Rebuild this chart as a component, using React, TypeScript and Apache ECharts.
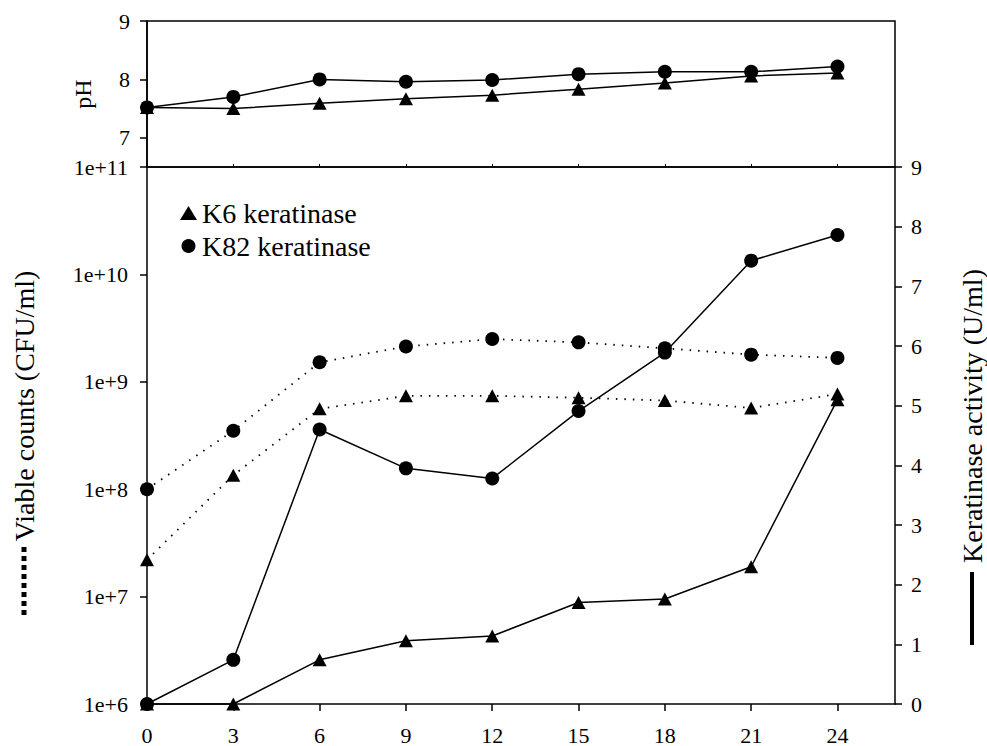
import React, { useEffect, useRef } from "react";
import * as echarts from "echarts";

const hours = [0, 3, 6, 9, 12, 15, 18, 21, 24];
const phK6 = [7.52, 7.5, 7.59, 7.67, 7.73, 7.83, 7.94, 8.06, 8.11];
const phK82 = [7.52, 7.7, 8.0, 7.96, 7.99, 8.09, 8.13, 8.13, 8.22];
const viableK6 = [2.2e7, 1.35e8, 5.6e8, 7.4e8, 7.4e8, 7.1e8, 6.7e8, 5.7e8, 7.7e8];
const viableK82 = [1.0e8, 3.5e8, 1.52e9, 2.13e9, 2.5e9, 2.33e9, 2.05e9, 1.79e9, 1.67e9];
const activityK6 = [0, 0, 0.74, 1.06, 1.14, 1.7, 1.76, 2.3, 5.1];
const activityK82 = [0, 0.74, 4.6, 3.95, 3.78, 4.91, 5.89, 7.43, 7.86];
const phTicks = [7, 8, 9];

const FONT = "Liberation Serif";
const BLACK = "#000";

const zip = (ys: number[]) => hours.map((h, i) => [h, ys[i]]);

export default function App() {
  const ref = useRef<HTMLDivElement>(null);
  useEffect(() => {
    if (!ref.current) return;
    const chart = echarts.init(ref.current, null, { renderer: "svg" });
    const axisLine = { show: true, lineStyle: { color: BLACK, width: 1.5 } };
    const axisTick = { show: true, length: 7, lineStyle: { color: BLACK, width: 1.5 } };
    const axisLabel = { color: BLACK, fontSize: 22, fontFamily: FONT };
    const solid = { color: BLACK, width: 1.5, type: "solid" as const };
    const dotted = { color: BLACK, width: 1.8, type: [1.5, 7] as any, cap: "butt" as const };
    const tri = { symbol: "triangle", symbolSize: [14, 13] };
    const circ = { symbol: "circle", symbolSize: 14 };
    const base = {
      type: "line" as const,
      clip: false,
      itemStyle: { color: BLACK },
      emphasis: { disabled: true },
      z: 3,
    };
    chart.setOption({
      animation: false,
      backgroundColor: "#fff",
      textStyle: { fontFamily: FONT, color: BLACK },
      grid: [
        { left: 147, right: 92, top: 21, height: 146, show: true, borderColor: BLACK, borderWidth: 1.5, backgroundColor: "transparent" },
        { left: 147, right: 92, top: 167, height: 538, show: false },
      ],
      legend: {
        orient: "vertical",
        left: 180,
        top: 199,
        itemWidth: 17,
        itemHeight: 14,
        itemGap: 5,
        padding: 0,
        selectedMode: false,
        textStyle: { fontSize: 28, fontFamily: FONT, color: BLACK },
        data: [
          { name: "K6 keratinase", icon: "triangle" },
          { name: "K82 keratinase", icon: "circle" },
        ],
      },
      xAxis: [
        {
          gridIndex: 0,
          type: "value",
          min: 0,
          max: 26,
          axisLine,
          axisTick: { show: true, inside: true, length: 3, lineStyle: { color: BLACK, width: 1 }, customValues: hours },
          axisLabel: { show: false },
          splitLine: { show: false },
        },
        {
          gridIndex: 1,
          type: "value",
          min: 0,
          max: 26,
          axisLine,
          axisTick: { ...axisTick, customValues: hours },
          axisLabel: { ...axisLabel, margin: 20, customValues: hours },
          splitLine: { show: false },
        },
      ],
      yAxis: [
        {
          gridIndex: 0,
          type: "value",
          min: 6.5,
          max: 9,
          name: "pH",
          nameLocation: "middle",
          nameGap: 52,
          nameTextStyle: { fontSize: 24, fontFamily: FONT, color: BLACK },
          axisLine,
          axisTick: { ...axisTick, customValues: phTicks },
          axisLabel: { ...axisLabel, margin: 17, customValues: phTicks },
          splitLine: { show: false },
        },
        {
          gridIndex: 1,
          type: "log",
          logBase: 10,
          min: 1e6,
          max: 1e11,
          position: "left",
          axisLine,
          axisTick,
          minorTick: { show: false },
          axisLabel: {
            ...axisLabel,
            margin: 19,
            formatter: (v: number) => "1e+" + Math.round(Math.log10(v)),
          },
          splitLine: { show: false },
        },
        {
          gridIndex: 1,
          type: "value",
          min: 0,
          max: 9,
          interval: 1,
          position: "right",
          axisLine,
          axisTick,
          axisLabel: { ...axisLabel, margin: 16 },
          splitLine: { show: false },
        },
      ],
      graphic: [
        {
          type: "text",
          x: 24,
          y: 406,
          rotation: Math.PI / 2,
          style: {
            text: "Viable counts (CFU/ml)",
            fontSize: 28,
            fontFamily: FONT,
            fill: BLACK,
            align: "center",
            verticalAlign: "middle",
            textAlign: "center",
            textVerticalAlign: "middle",
          },
        },
        {
          type: "line",
          shape: { x1: 24, y1: 547, x2: 24, y2: 619 },
          style: { stroke: BLACK, lineWidth: 5, lineDash: [5, 4] },
        },
        {
          type: "text",
          x: 972,
          y: 416,
          rotation: Math.PI / 2,
          style: {
            text: "Keratinase activity (U/ml)",
            fontSize: 28,
            fontFamily: FONT,
            fill: BLACK,
            align: "center",
            verticalAlign: "middle",
            textAlign: "center",
            textVerticalAlign: "middle",
          },
        },
        {
          type: "line",
          shape: { x1: 972, y1: 572, x2: 972, y2: 645 },
          style: { stroke: BLACK, lineWidth: 4 },
        },
      ],
      series: [
        { ...base, ...tri, name: "K6 keratinase", xAxisIndex: 0, yAxisIndex: 0, lineStyle: solid, data: zip(phK6) },
        { ...base, ...circ, name: "K82 keratinase", xAxisIndex: 0, yAxisIndex: 0, lineStyle: solid, data: zip(phK82) },
        { ...base, ...tri, name: "K6 keratinase", xAxisIndex: 1, yAxisIndex: 1, lineStyle: dotted, data: zip(viableK6) },
        { ...base, ...circ, name: "K82 keratinase", xAxisIndex: 1, yAxisIndex: 1, lineStyle: dotted, data: zip(viableK82) },
        { ...base, ...tri, name: "K6 keratinase", xAxisIndex: 1, yAxisIndex: 2, lineStyle: solid, data: zip(activityK6) },
        { ...base, ...circ, name: "K82 keratinase", xAxisIndex: 1, yAxisIndex: 2, lineStyle: solid, data: zip(activityK82) },
      ],
    });
    return () => chart.dispose();
  }, []);
  return (
    <div
      ref={ref}
      style={{ position: "fixed", left: 0, top: 0, width: 987, height: 746, background: "#fff" }}
    />
  );
}
